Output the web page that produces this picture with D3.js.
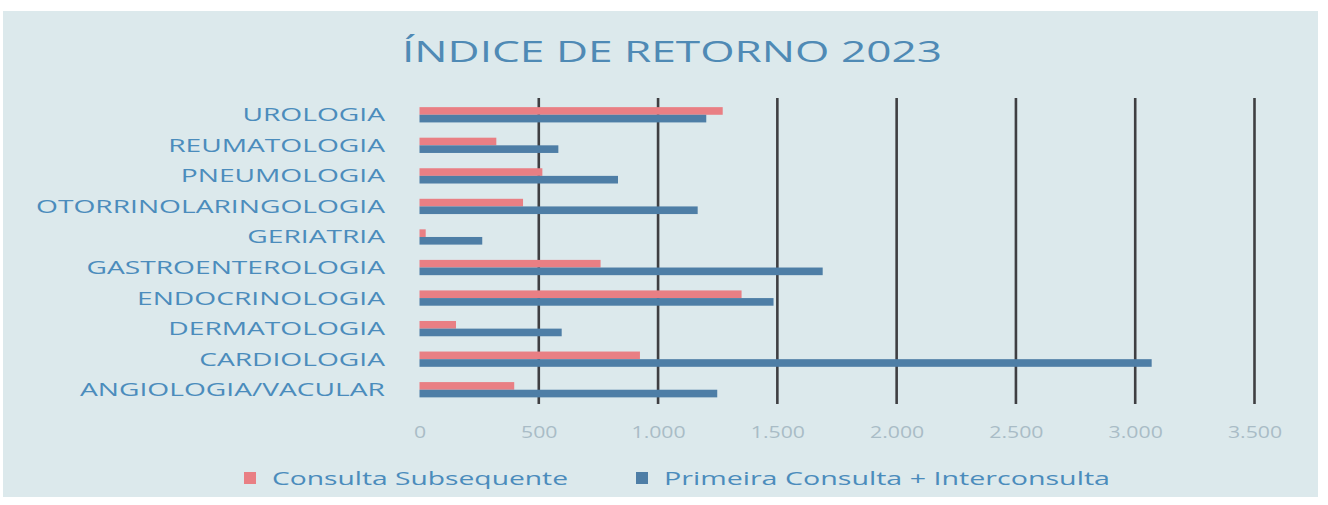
<!DOCTYPE html>
<html>
<head>
<meta charset="utf-8">
<script src="https://cdn.jsdelivr.net/npm/d3@7"></script>
<style>
  body { margin: 0; background: #ffffff; }
  svg { display: block; font-family: "Open Sans", sans-serif; }
</style>
</head>
<body>
<svg id="chart" width="1328" height="505"></svg>
<script>
// dados (de cima para baixo)
var categorias = ["UROLOGIA", "REUMATOLOGIA", "PNEUMOLOGIA", "OTORRINOLARINGOLOGIA", "GERIATRIA",
                  "GASTROENTEROLOGIA", "ENDOCRINOLOGIA", "DERMATOLOGIA", "CARDIOLOGIA", "ANGIOLOGIA/VACULAR"];
var subsequente = [1271, 322, 515, 434, 26, 759, 1350, 153, 924, 397];
var primeira = [1202, 582, 832, 1166, 263, 1690, 1484, 596, 3069, 1248];
var series = ["Consulta Subsequente", "Primeira Consulta + Interconsulta"];
var ticks = [0, 500, 1000, 1500, 2000, 2500, 3000, 3500];
var tickLabels = ["0", "500", "1.000", "1.500", "2.000", "2.500", "3.000", "3.500"];

var cores = ["#e97f84", "#4e7ea6"];

var svg = d3.select("#chart");

// fundo
svg.append("rect")
    .attr("x", 3).attr("y", 11)
    .attr("width", 1315).attr("height", 486)
    .attr("fill", "#dce9ec");

// estica o texto na horizontal (o original é mais largo)
function esticar(sel, fator) {
    sel.each(function() {
        var w = this.getComputedTextLength();
        d3.select(this).attr("textLength", w * fator).attr("lengthAdjust", "spacingAndGlyphs");
    });
}

// título
var titulo = svg.append("text")
    .attr("x", 402).attr("y", 62)
    .attr("font-size", 30)
    .attr("fill", "#4f8ab5")
    .text("ÍNDICE DE RETORNO 2023");
esticar(titulo, 540 / titulo.node().getComputedTextLength());

var xScale = d3.scaleLinear()
    .domain([0, 3500])
    .range([419.5, 1254.5]);

var yScale = d3.scaleBand()
    .domain(categorias)
    .range([99.5, 405])
    .paddingInner(0);

var ySub = d3.scaleBand()
    .domain([0, 1])
    .range([0, yScale.bandwidth()])
    .paddingOuter(1);

// linhas de grade
svg.append("g")
    .selectAll("line")
    .data(ticks.filter(function(d) { return d > 0; }))
    .enter()
    .append("line")
    .attr("x1", function(d) { return xScale(d); })
    .attr("x2", function(d) { return xScale(d); })
    .attr("y1", 98)
    .attr("y2", 404)
    .attr("stroke", "#3f3f42")
    .attr("stroke-width", 2.6);

// eixo x (só rótulos)
var eixoX = svg.append("g")
    .attr("transform", "translate(0," + 438 + ")")
    .call(d3.axisBottom(xScale)
        .tickValues(ticks)
        .tickFormat(function(d, i) { return tickLabels[i]; })
        .tickSize(0)
        .tickPadding(0));
eixoX.select(".domain").remove();
eixoX.selectAll("text")
    .attr("dy", 0)
    .attr("font-size", 17)
    .attr("font-family", "Open Sans, sans-serif")
    .attr("fill", "#a9bcc6");
esticar(eixoX.selectAll("text"), 1.25);

// rótulos das categorias
var rotulos = svg.append("g")
    .selectAll("text")
    .data(categorias)
    .enter()
    .append("text")
    .attr("x", 385)
    .attr("y", function(d) { return yScale(d) + yScale.bandwidth() / 2 + 6.5; })
    .attr("text-anchor", "end")
    .attr("font-size", 18)
    .attr("fill", "#4b8cbc")
    .text(function(d) { return d; });
var larguraOto = rotulos.filter(function(d) { return d == "OTORRINOLARINGOLOGIA"; }).node().getComputedTextLength();
esticar(rotulos, 349 / larguraOto);

// barras
var dados = [subsequente, primeira];
dados.forEach(function(valores, s) {
    svg.append("g")
        .selectAll("rect")
        .data(valores)
        .enter()
        .append("rect")
        .attr("x", xScale(0))
        .attr("y", function(d, i) { return yScale(categorias[i]) + ySub(s); })
        .attr("width", function(d) { return xScale(d) - xScale(0); })
        .attr("height", ySub.bandwidth())
        .attr("fill", cores[s]);
});

// legenda
var legX = [244, 636];
var legTextW = [296, 446];
var legenda = svg.append("g")
    .selectAll("g")
    .data(series)
    .enter()
    .append("g");
legenda.append("rect")
    .attr("x", function(d, i) { return legX[i]; })
    .attr("y", 472)
    .attr("width", 12)
    .attr("height", 12)
    .attr("fill", function(d, i) { return cores[i]; });
legenda.append("text")
    .attr("x", function(d, i) { return legX[i] + 28; })
    .attr("y", 484.5)
    .attr("font-size", 19)
    .attr("fill", "#4b8cbc")
    .text(function(d) { return d; })
    .each(function(d, i) {
        var w = this.getComputedTextLength();
        d3.select(this).attr("textLength", legTextW[i]).attr("lengthAdjust", "spacingAndGlyphs");
    });
</script>
</body>
</html>
